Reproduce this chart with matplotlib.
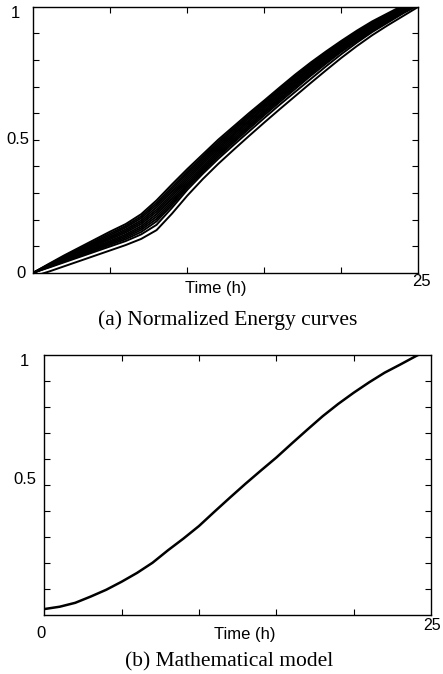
import matplotlib
matplotlib.use("Agg")
import matplotlib.pyplot as plt
import numpy as np

# time grid (h), one value per hour
hours = list(range(26))

# (a) normalized energy curves
energy_curves = [
    [0, .033, .065, .095, .125, .155, .183, .220, .272, .332, .390, .445, .500, .550, .600, .648, .697, .745, .790, .832, .872, .910, .945, .975, 1.005, 1.035],
    [0, .031, .061, .090, .119, .148, .176, .212, .263, .322, .381, .437, .492, .543, .593, .642, .691, .739, .784, .827, .867, .905, .940, .971, 1.001, 1.031],
    [0, .030, .058, .086, .114, .142, .170, .205, .255, .314, .374, .430, .485, .537, .587, .636, .685, .733, .779, .822, .863, .901, .936, .968, .998, 1.028],
    [0, .028, .055, .082, .109, .136, .163, .197, .246, .305, .366, .423, .478, .530, .581, .630, .679, .727, .773, .817, .858, .897, .932, .964, .995, 1.025],
    [0, .027, .053, .079, .105, .131, .157, .190, .237, .296, .358, .416, .471, .523, .574, .624, .673, .721, .768, .812, .854, .892, .928, .961, .993, 1.023],
    [0, .026, .051, .076, .101, .126, .151, .183, .229, .288, .350, .409, .464, .517, .568, .618, .667, .716, .763, .807, .849, .888, .925, .958, .990, 1.021],
    [0, .024, .048, .072, .096, .120, .144, .175, .220, .279, .342, .401, .457, .510, .561, .611, .661, .710, .757, .802, .845, .884, .921, .954, .987, 1.018],
    [0, .023, .046, .069, .092, .115, .138, .168, .211, .270, .334, .394, .450, .503, .554, .605, .655, .704, .752, .797, .840, .880, .917, .951, .984, 1.016],
    [0, .022, .044, .066, .088, .110, .132, .161, .202, .262, .327, .387, .443, .496, .548, .599, .649, .698, .746, .792, .836, .876, .913, .948, .981, 1.013],
    [0, .021, .042, .063, .084, .105, .126, .153, .193, .254, .320, .380, .436, .489, .541, .592, .642, .691, .740, .786, .831, .871, .909, .944, .978, 1.010],
    [0, .019, .039, .059, .079, .099, .119, .144, .180, .244, .312, .372, .428, .480, .531, .582, .632, .680, .728, .776, .822, .865, .905, .940, .975, 1.006],
    [-.014, .004, .024, .044, .064, .084, .104, .127, .160, .222, .290, .352, .409, .462, .514, .565, .615, .664, .713, .761, .808, .852, .893, .930, .965, 1.000],
]

# (b) mathematical model
model_hours = [0, 1, 2, 3, 4, 5, 6, 7, 8, 9, 10, 11, 12, 13, 14, 15, 16, 17, 18, 19, 20, 21, 22, 23, 24, 25]
model_values = [.024, .033, .048, .072, .098, .129, .163, .202, .250, .295, .343, .398, .452, .505, .556, .606,
                .660, .713, .765, .812, .855, .895, .932, .963, .995, 1.025]

W, H = 443, 674
SANS = "Liberation Sans"
SERIF = "Liberation Serif"


def px(x, y):
    return x / W, 1 - y / H


def style_axes(ax):
    ax.set_xlim(0, 25)
    ax.set_ylim(0, 1)
    ax.set_xticks(np.arange(5, 25, 5))
    ax.set_yticks(np.arange(0.1, 1.0, 0.1))
    ax.tick_params(direction="in", length=4, width=0.8, top=True, right=True,
                   labelbottom=False, labelleft=False)
    for s in ax.spines.values():
        s.set_linewidth(1.0)
        s.set_color("black")


fig = plt.figure(figsize=(W / 100, H / 100), dpi=100)

ax_a = fig.add_axes([33.3 / W, 1 - 272.7 / H, (418.5 - 33.3) / W, (272.7 - 6.7) / H])
for curve in energy_curves:
    ax_a.plot(hours, curve, color="black", linewidth=1.4, solid_joinstyle="round")
style_axes(ax_a)

ax_b = fig.add_axes([44.3 / W, 1 - 615.3 / H, (431 - 44.3) / W, (615.3 - 355) / H])
ax_b.plot(model_hours, model_values, color="black", linewidth=1.8)
style_axes(ax_b)

# labels for panel (a)
fs = 12
fig.text(*px(15, 13.3), "1", family=SANS, fontsize=fs, ha="center", va="center")
fig.text(*px(18, 140), "0.5", family=SANS, fontsize=fs, ha="center", va="center")
fig.text(*px(20.7, 273), "0", family=SANS, fontsize=fs, ha="center", va="center")
fig.text(*px(215.5, 288.3), "Time (h)", family=SANS, fontsize=fs, ha="center", va="center")
fig.text(*px(421.7, 281.7), "25", family=SANS, fontsize=fs, ha="center", va="center")
fig.text(*px(228, 320), "(a) Normalized Energy curves", family=SERIF, fontsize=15.5,
         ha="center", va="center")

# labels for panel (b)
fig.text(*px(24.5, 361.7), "1", family=SANS, fontsize=fs, ha="center", va="center")
fig.text(*px(24.5, 480), "0.5", family=SANS, fontsize=fs, ha="center", va="center")
fig.text(*px(41.2, 634), "0", family=SANS, fontsize=fs, ha="center", va="center")
fig.text(*px(245, 635), "Time (h)", family=SANS, fontsize=fs, ha="center", va="center")
fig.text(*px(432.5, 625), "25", family=SANS, fontsize=11.5, ha="center", va="center")
fig.text(*px(228.7, 661.7), "(b) Mathematical model", family=SERIF, fontsize=15.5,
         ha="center", va="center")

fig.savefig("out.png", dpi=100)
